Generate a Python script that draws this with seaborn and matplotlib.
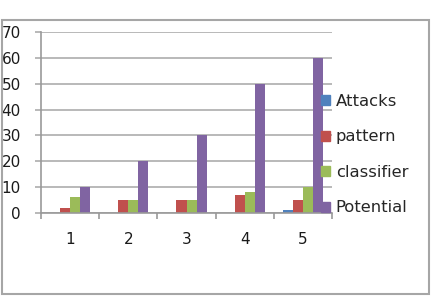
import matplotlib
matplotlib.use("Agg")
import matplotlib.pyplot as plt
import matplotlib.patches as mpatches
import seaborn as sns
import pandas as pd

categories = ["1", "2", "3", "4", "5"]
attacks = [0, 0, 0, 0, 1]
pattern = [2, 5, 5, 7, 5]
classifier = [6, 5, 5, 8, 10]
potential = [10, 20, 30, 50, 60]
series_names = ["Attacks", "pattern", "classifier", "Potential"]
colors = ["#4F81BD", "#C0504D", "#9BBB59", "#8064A2"]
y_ticks = [0, 10, 20, 30, 40, 50, 60, 70]

rows = []
for name, vals in zip(series_names, [attacks, pattern, classifier, potential]):
    for c, v in zip(categories, vals):
        rows.append({"cat": c, "series": name, "value": v})
df = pd.DataFrame(rows)

sns.set_style("white")
plt.rcParams["font.family"] = ["DejaVu Sans"]

W, H = 437, 300
fig = plt.figure(figsize=(W / 100, H / 100), dpi=100)
fig.patch.set_facecolor("white")

# outer chart frame
fig.patches.append(mpatches.Rectangle((1.5 / W, 1 - 294 / H), 427.5 / W, 274 / H,
                                      transform=fig.transFigure, fill=False,
                                      edgecolor="#a6a6a6", linewidth=1.5))

ax = fig.add_axes([41 / W, 1 - 213 / H, (332 - 41) / W, (213 - 32) / H])
sns.barplot(data=df, x="cat", y="value", hue="series", hue_order=series_names,
            palette=colors, width=0.69, gap=0, saturation=1, ax=ax,
            linewidth=0, legend=True)

ax.set_ylim(0, 70)
ax.set_xlim(-0.5, 4.5)
ax.set_yticks(y_ticks)
ax.set_xlabel("")
ax.set_ylabel("")
ax.yaxis.grid(True, color="#b3b3b3", linewidth=1.3)
ax.set_axisbelow(True)
for s in ["top", "right"]:
    ax.spines[s].set_visible(False)
for s in ["left", "bottom"]:
    ax.spines[s].set_color("#999999")
    ax.spines[s].set_linewidth(1.2)
ax.tick_params(axis="y", left=True, length=4.5, color="#b3b3b3", width=1.3, pad=10,
               labelsize=11, labelcolor="#1a1a1a")
ax.set_xticks([i - 0.5 for i in range(6)], minor=True)
ax.tick_params(axis="x", which="major", bottom=True, length=0, pad=14, labelsize=11,
               labelcolor="#1a1a1a")
ax.tick_params(axis="x", which="minor", bottom=True, length=4.5, color="#999999", width=1.2)

handles = [mpatches.Patch(color=c) for c in colors]
ax.get_legend().remove()
fig.legend(handles, series_names, loc="upper left",
           bbox_to_anchor=(321 / W, 1 - 94 / H), bbox_transform=fig.transFigure,
           frameon=False, fontsize=11.8, handlelength=0.55, handleheight=0.55,
           handletextpad=0.35, labelspacing=1.25, borderpad=0, borderaxespad=0)

fig.savefig("out.png", dpi=100, facecolor="white")
